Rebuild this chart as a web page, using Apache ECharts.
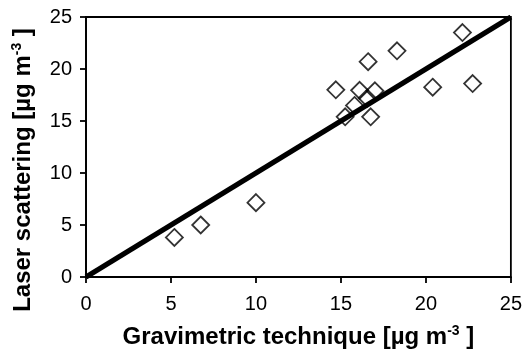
<!DOCTYPE html>
<html>
<head>
<meta charset="utf-8">
<script src="https://cdn.jsdelivr.net/npm/echarts@6/dist/echarts.min.js"></script>
<style>
  html, body { margin: 0; padding: 0; background: #fff; }
  #chart { width: 525px; height: 356px; }
</style>
</head>
<body>
<div id="chart"></div>
<script>
// measured points (gravimetric vs laser scattering)
var gravX = [5.2, 6.75, 10.0, 14.7, 15.25, 15.8, 16.1, 16.55, 16.6, 16.75, 17.0, 18.3, 20.4, 22.15, 22.75]
var laserY = [3.8, 5.0, 7.15, 18.0, 15.4, 16.5, 17.95, 17.2, 20.7, 15.4, 17.9, 21.75, 18.25, 23.5, 18.6]
// 1:1 line
var lineX = [0, 25]
var lineY = [0, 25]
var axisTicks = [0, 5, 10, 15, 20, 25]

var font = 'Liberation Sans, Arial, sans-serif'

var points = gravX.map(function (x, i) { return [x, laserY[i]] })
var line = lineX.map(function (x, i) { return [x, lineY[i]] })

var nameRich = {
  b: { fontFamily: font, fontWeight: 'bold', fontSize: 24, color: '#000', lineHeight: 26 },
  s: { fontFamily: font, fontWeight: 'bold', fontSize: 14, color: '#000', verticalAlign: 'top', lineHeight: 26 }
}

var chart = echarts.init(document.getElementById('chart'), null, { renderer: 'canvas' })
chart.setOption({
  animation: false,
  grid: {
    left: 86, right: 13, top: 17, bottom: 79,
    show: true, borderColor: '#000', borderWidth: 1.8
  },
  xAxis: {
    type: 'value',
    min: axisTicks[0], max: axisTicks[axisTicks.length - 1], interval: 5,
    name: '{b|Gravimetric technique [µg m}{s|-3}{b| ]}',
    nameLocation: 'middle',
    nameGap: 47,
    nameTextStyle: { rich: nameRich },
    axisLine: { lineStyle: { color: '#000', width: 1.8 } },
    axisTick: { length: 6, lineStyle: { color: '#000', width: 1.8 } },
    axisLabel: { color: '#000', fontSize: 20, fontFamily: font, margin: 17 },
    splitLine: { show: false }
  },
  yAxis: {
    type: 'value',
    min: axisTicks[0], max: axisTicks[axisTicks.length - 1], interval: 5,
    name: '{b|Laser scattering [µg m}{s|-3}{b| ]}',
    nameLocation: 'middle',
    nameGap: 50,
    nameTextStyle: { rich: nameRich, padding: [0, 46, 0, 0] },
    axisLine: { lineStyle: { color: '#000', width: 1.8 } },
    axisTick: { length: 6, lineStyle: { color: '#000', width: 1.8 } },
    axisLabel: { color: '#000', fontSize: 20, fontFamily: font, margin: 14 },
    splitLine: { show: false }
  },
  series: [
    {
      type: 'scatter',
      data: points,
      symbol: 'diamond',
      symbolSize: 17,
      itemStyle: { color: 'rgba(0,0,0,0)', borderColor: '#000', borderWidth: 1.8 },
      z: 2
    },
    {
      type: 'line',
      data: line,
      showSymbol: false,
      symbol: 'none',
      lineStyle: { color: '#000', width: 5 },
      z: 3
    }
  ]
})
</script>
</body>
</html>
